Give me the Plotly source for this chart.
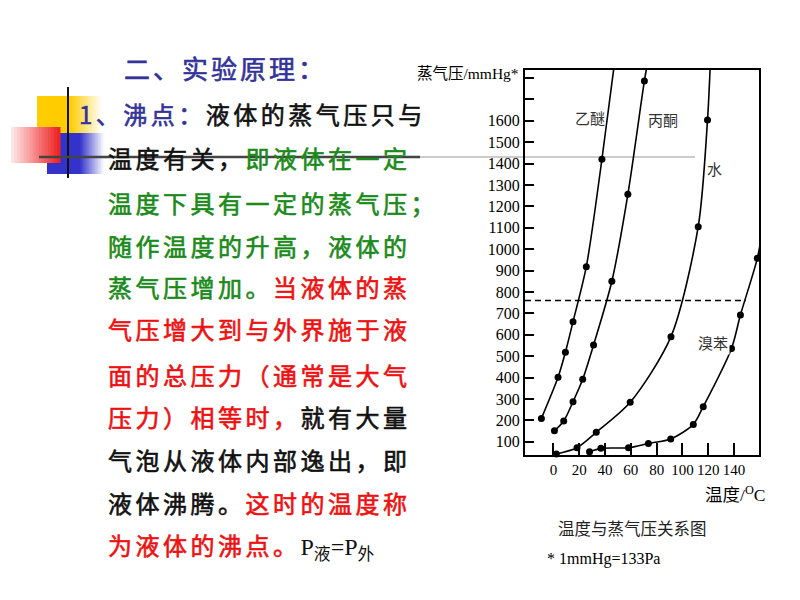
import plotly.graph_objects as go

W, H = 800, 600

# ---------------- data ----------------
ether_T = [-9.3, 3.6, 9.3, 15.2, 25.5, 37.6]
ether_P = [209, 401, 518, 661, 918, 1420]
ether_tail = [(48.0, 1900)]

acetone_T = [0.8, 8.0, 15.2, 22.7, 31.1, 45.3, 57.7, 70.5]
acetone_P = [151, 197, 287, 392, 552, 850, 1256, 1786]
acetone_tail = [(73.8, 1900)]

water_T = [2.3, 18.3, 33.2, 59.5, 91.1, 112.2, 119.4]
water_P = [43, 72, 144, 284, 591, 1105, 1603]
water_tail = [(121.8, 1900)]

bromo_T = [28.0, 36.8, 58.2, 73.6, 90.9, 108.4, 116.1, 138.0, 144.9, 158.0]
bromo_P = [53, 69, 72, 92, 113, 181, 264, 536, 692, 957]
bromo_tail = [(162.0, 1090)]

atm_P = 760
atm_T_range = [-22, 149]

curve_names = ["乙醚", "丙酮", "水", "溴苯"]
curve_label_pos = [(28.6, 1613), (84.7, 1608), (125.0, 1379), (123.6, 566)]

x_ticks = [0, 20, 40, 60, 80, 100, 120, 140]
y_ticks = list(range(100, 1900, 100))
y_ticktext = [str(v) if v <= 1600 else " " for v in y_ticks]

x_range = [-22, 159.3]
y_range = [38, 1837]

# ---------------- figure ----------------
fig = go.Figure()

series = [
    (ether_T, ether_P, ether_tail),
    (acetone_T, acetone_P, acetone_tail),
    (water_T, water_P, water_tail),
    (bromo_T, bromo_P, bromo_tail),
]
for T, P, tail in series:
    lt = T + [t for t, _ in tail]
    lp = P + [p for _, p in tail]
    fig.add_trace(go.Scatter(x=lt, y=lp, mode="lines",
                             line=dict(color="black", width=1.6, shape="spline", smoothing=0.8),
                             hoverinfo="skip", showlegend=False))
    fig.add_trace(go.Scatter(x=T, y=P, mode="markers", cliponaxis=False,
                             marker=dict(color="black", size=7),
                             showlegend=False))

fig.add_trace(go.Scatter(x=atm_T_range, y=[atm_P, atm_P], mode="lines",
                         line=dict(color="black", width=1.4, dash="6px,4px"),
                         showlegend=False, hoverinfo="skip"))

ax_common = dict(showline=True, linecolor="black", linewidth=2, mirror=True,
                 ticks="inside", tickcolor="black", tickwidth=1.5,
                 showgrid=False, zeroline=False)

fig.update_layout(
    width=W, height=H,
    margin=dict(l=0, r=0, t=0, b=0),
    paper_bgcolor="white",
    plot_bgcolor="rgba(0,0,0,0)",
    xaxis=dict(domain=[525 / W, 759 / W], range=x_range, tickvals=x_ticks,
               ticklen=12, tickangle=0,
               tickfont=dict(family="Liberation Serif", size=15, color="black"),
               **ax_common),
    yaxis=dict(domain=[1 - 455 / H, 1 - 70 / H], range=y_range, tickvals=y_ticks,
               ticktext=y_ticktext, ticklen=9,
               tickfont=dict(family="Liberation Serif", size=16, color="black"),
               **ax_common),
)

ann = []
for name, (t, p) in zip(curve_names, curve_label_pos):
    ann.append(dict(x=t, y=p, xref="x", yref="y", text=name, showarrow=False,
                    font=dict(family="Noto Sans CJK SC", size=15, color="#333333"),
                    bgcolor="white" if name == "溴苯" else None))

def pa(x, y, text, size, anchor="left", family="Liberation Serif, Noto Sans CJK SC", color="black"):
    ann.append(dict(x=x / W, y=1 - y / H, xref="paper", yref="paper", text=text,
                    showarrow=False, xanchor=anchor, yanchor="middle",
                    font=dict(family=family, size=size, color=color)))

pa(521, 74, "蒸气压/mmHg*", 15.5, anchor="right")
pa(703, 494, "温度/<sup>O</sup>C", 17.5)
pa(632, 528, "温度与蒸气压关系图", 16.5, anchor="center", family="Noto Sans CJK SC", color="#222")
pa(545, 559, "* 1mmHg=133Pa", 16)

BLUE = "#333399"
GREEN = "#1a8a1a"
RED = "#ee1111"
BLACK = "#111111"

def seg(t, c, ls=3.5):
    return (f'<span style="color:{c};letter-spacing:{ls}px;'
            f'stroke:{c};stroke-width:0.6px">{t}</span>')

pa(122, 68, seg("二、实验原理：", BLUE, 3.0), 26, family="Noto Sans CJK SC")

lines = [
    (77, 113, [("1、沸点：", BLUE), ("液体的蒸气压只与", BLACK)]),
    (106, 158, [("温度有关，", BLACK), ("即液体在一定", GREEN)]),
    (106, 202, [("温度下具有一定的蒸气压；", GREEN)]),
    (106, 245, [("随作温度的升高，液体的", GREEN)]),
    (106, 287, [("蒸气压增加。", GREEN), ("当液体的蒸", RED)]),
    (106, 328, [("气压增大到与外界施于液", RED)]),
    (106, 374, [("面的总压力（通常是大气", RED)]),
    (106, 417, [("压力）相等时，", RED), ("就有大量", BLACK)]),
    (106, 459, [("气泡从液体内部逸出，即", BLACK)]),
    (106, 502, [("液体沸腾。", BLACK), ("这时的温度称", RED)]),
]
for x0, y0, segs in lines:
    pa(x0, y0, "".join(seg(t, c) for t, c in segs), 24, family="Noto Sans CJK SC")

last = (seg("为液体的沸点。", RED)
        + '<span style="font-family:Liberation Serif, Noto Sans CJK SC;color:#111111">'
        + 'P<sub>液</sub>=P<sub>外</sub></span>')
pa(106, 545, last, 24, family="Noto Sans CJK SC")

fig.update_layout(annotations=ann)

# ---------------- decorations ----------------
shapes = []

def mix(c1, c2, f):
    return "rgb(%d,%d,%d)" % tuple(round(a + (b - a) * f) for a, b in zip(c1, c2))

def grad_rect(x0, x1, y0, y1, c_left, c_right, n=16):
    w = (x1 - x0) / n
    for i in range(n):
        f = (i + 0.5) / n
        shapes.append(dict(type="rect", xref="paper", yref="paper",
                           x0=(x0 + i * w) / W, x1=(x0 + (i + 1) * w + 0.5) / W,
                           y0=1 - y1 / H, y1=1 - y0 / H, line=dict(width=0),
                           fillcolor=mix(c_left, c_right, f), layer="below"))

def rect(x0, x1, y0, y1, color):
    shapes.append(dict(type="rect", xref="paper", yref="paper", x0=x0 / W, x1=x1 / W,
                       y0=1 - y1 / H, y1=1 - y0 / H, line=dict(width=0),
                       fillcolor=color, layer="below"))

YEL = (255, 204, 0)
BLU = (51, 51, 204)
WHT = (255, 255, 255)
rect(37, 70, 96, 133, mix(YEL, YEL, 0))
grad_rect(70, 102, 96, 133, YEL, WHT)
rect(47, 80, 133, 174, mix(BLU, BLU, 0))
grad_rect(80, 104, 133, 174, BLU, WHT)
grad_rect(11, 60, 127, 163, (255, 235, 235), (238, 30, 30))

def line(x0, y0, x1, y1, color, width):
    shapes.append(dict(type="line", xref="paper", yref="paper", x0=x0 / W, x1=x1 / W,
                       y0=1 - y0 / H, y1=1 - y1 / H, line=dict(color=color, width=width),
                       layer="below"))

line(68, 87, 68, 178, "#111", 2)
line(39, 157, 420, 157, "#444", 2.5)
line(420, 157, 695, 157, "#cccccc", 2)

fig.update_layout(shapes=shapes)

fig.write_html("out.html", config={"displayModeBar": False},
               post_script="document.body.style.margin='0';document.body.style.padding='0';")
